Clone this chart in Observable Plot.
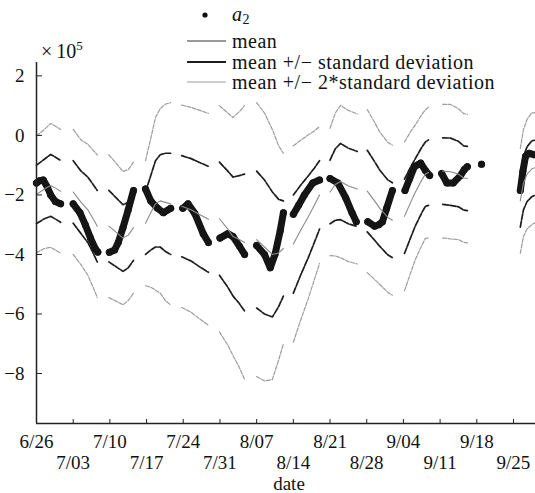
<!DOCTYPE html>
<html><head><meta charset="utf-8">
<script src="https://cdn.jsdelivr.net/npm/d3@7"></script>
<script src="https://cdn.jsdelivr.net/npm/@observablehq/plot@0.6"></script>
<style>
body{margin:0;background:#fff;}
#wrap{position:relative;width:535px;height:493px;font-family:"Liberation Serif","Times New Roman","DejaVu Serif",serif;color:#111;overflow:hidden;}
#wrap svg.plot{position:absolute;left:0;top:0;}
.ov{position:absolute;white-space:nowrap;line-height:1;}
.row{position:absolute;left:183px;height:20px;display:flex;align-items:center;font-size:20px;line-height:1;letter-spacing:0.5px;white-space:nowrap;}
.row span{line-height:1;}
.row svg{display:block;margin-right:5px;}
</style></head><body><div id="wrap"></div>
<script>
// Days counted from 6/26; values in units of 10^5.
// Statistic bands: segment id, day, mean, standard deviation
const bandSeg = [1,1,1,1,1, 2,2,2,2,2, 3,3,3,3,3, 4,4,4,4,4,4, 5,5,5,5, 6,6,6,6,6, 7,7,7,7,7, 8,8,8,8,8, 9,9,9,9,9, 10,10,10,10,10, 11,11,11,11,11,11, 12,12,12,12,12, 13,13,13,13,13];
const bandDay = [0,1.5,2.7,3.7,4.6, 7,8.5,9.8,10.8,11.6, 13.8,15.5,16.5,17.5,18.5, 20.8,21.8,22.7,23.6,24.6,25.6, 27.7,29.5,31,32.8, 34.9,36.5,37.5,38.7,39.7, 42,43.5,45,46.2,47.1, 49,50.5,51.8,53,54, 56,57,58,59.5,61.2, 63.1,64.5,65.5,67,67.9, 70.2,71.5,72.3,73.5,74.2,74.8, 77.5,79,80.5,81.5,82.2, 92.3,92.9,93.6,94.5,95.2];
const bandMean = [-1.98,-1.8,-1.68,-1.78,-1.88, -1.9,-2.25,-2.5,-2.8,-3.05, -3.05,-3.3,-3.45,-3.35,-3.1, -2.95,-2.6,-2.3,-2.2,-2.25,-2.3, -2.38,-2.5,-2.65,-2.82, -2.8,-3.15,-3.4,-3.5,-3.6, -3.5,-3.75,-4.0,-3.95,-3.8, -3.65,-3.15,-2.75,-2.35,-2.0, -1.9,-1.65,-1.55,-1.7,-1.8, -1.87,-2.2,-2.45,-2.75,-2.85, -2.72,-2.2,-1.9,-1.5,-1.3,-1.25, -1.2,-1.22,-1.3,-1.43,-1.45, -2.2,-1.6,-1.3,-1.12,-1.08];
const bandSd = [0.98,1.0,1.04,1.04,1.04, 1.05,1.05,1.1,1.15,1.2, 1.2,1.15,1.12,1.1,1.1, 1.05,1.25,1.45,1.55,1.65,1.7, 1.7,1.72,1.75,1.78, 1.9,1.95,2.0,2.15,2.3, 2.3,2.25,2.1,1.8,1.6, 1.65,1.5,1.38,1.25,1.15, 1.07,1.2,1.28,1.27,1.26, 1.37,1.32,1.28,1.26,1.26, 1.25,1.18,1.13,1.1,1.08,1.1, 1.12,1.13,1.1,1.08,1.08, 0.88,0.9,0.92,0.94,0.92];

// Observed a2: segment id, day, value
const a2Seg = [1,1,1,1,1,1,1, 2,2,2,2,2,2, 3,3,3,3,3,3, 4,4,4,4,4, 5,5,5,5,5, 6,6,6,6,6, 7,7,7,7,7,7, 8,8,8,8,8, 9,9,9,9,9, 10,10,10,10,10,10, 11,11,11,11,11,11, 12,12,12,12,12,12, 13, 14,14,14,14,14];
const a2Day = [0,0.6,1.3,2.1,2.7,3.6,4.6, 7,8.3,9.3,10.3,11.2,11.7, 13.9,14.9,15.6,16.5,17.5,18.5, 20.8,21.8,23.1,24.2,25.6, 27.9,28.9,30.2,31.8,32.8, 35,36.5,37.5,38.7,39.7, 42,43.5,44.6,45.5,46.5,47.1, 49,50,51.1,52.7,54, 56,57.5,59,60.2,61, 63.2,64.5,65.3,66,66.8,67.9, 70.3,71.2,72.1,73.3,74.2,75, 77.3,78.3,79.5,80.9,81.6,82.2, 84.9, 92.3,92.8,93.3,94,95];
const a2Val = [-1.6,-1.52,-1.5,-1.75,-2.0,-2.22,-2.3, -2.3,-2.6,-3.0,-3.45,-3.8,-3.92, -3.93,-3.85,-3.6,-3.1,-2.5,-1.85, -1.8,-2.2,-2.45,-2.6,-2.45, -2.45,-2.3,-2.62,-3.3,-3.6, -3.45,-3.3,-3.4,-3.72,-4.0, -3.7,-4.0,-4.45,-4.0,-3.2,-2.6, -2.65,-2.35,-2.0,-1.6,-1.5, -1.45,-1.6,-2.1,-2.6,-2.9, -2.9,-3.05,-3.0,-2.9,-2.45,-1.85, -1.85,-1.45,-1.05,-0.93,-1.18,-1.35, -1.28,-1.6,-1.6,-1.35,-1.15,-1.05, -0.97, -1.85,-1.2,-0.7,-0.6,-0.65];

const tickDays = [0,7,14,21,28,35,42,49,56,63,70,77,84,91];
const tickLabels = ["6/26","7/03","7/10","7/17","7/24","7/31","8/07","8/14","8/21","8/28","9/04","9/11","9/18","9/25"];
const yTicks = [2,0,-2,-4,-6,-8];
const xDomain = [0, 95.2];
const yDomain = [-9.68, 2.45];

const bands = bandDay.map((d,i)=>({seg:bandSeg[i], day:d, mean:bandMean[i], sd:bandSd[i]}));
const obs = a2Day.map((d,i)=>({seg:a2Seg[i], day:d, v:a2Val[i]}));
const labelOf = new Map(tickDays.map((d,i)=>[d,tickLabels[i]]));
const evenT = tickDays.filter((d,i)=>i%2===0), oddT = tickDays.filter((d,i)=>i%2===1);

const W=535, H=493, mL=36, mR=0, mT=62, mB=70;
const fw = W-mL-mR, fh = H-mT-mB;
const grayS = {stroke:"#9c9c9c", strokeWidth:1.2, strokeDasharray:"4,1.5"};
const darkS = {stroke:"#1c1c1c", strokeWidth:1.7, strokeDasharray:"6,1.5"};

const chart = Plot.plot({
  width:W, height:H, marginLeft:mL, marginRight:mR, marginTop:mT, marginBottom:mB,
  style:{fontFamily:'"Liberation Serif","Times New Roman","DejaVu Serif",serif', fontSize:"19px", color:"#111", background:"transparent"},
  x:{domain:xDomain, label:null},
  y:{domain:yDomain, label:null},
  marks:[
    Plot.line(bands,{x:"day", y:d=>d.mean+2*d.sd, z:"seg", ...grayS}),
    Plot.line(bands,{x:"day", y:d=>d.mean-2*d.sd, z:"seg", ...grayS}),
    Plot.line(bands,{x:"day", y:d=>d.mean+d.sd, z:"seg", ...darkS}),
    Plot.line(bands,{x:"day", y:d=>d.mean-d.sd, z:"seg", ...darkS}),
    Plot.line(obs,{x:"day", y:"v", z:"seg", stroke:"#151515", strokeWidth:7, strokeLinecap:"round", strokeLinejoin:"round"}),
    Plot.dot(obs,{x:"day", y:"v", r:3.5, fill:"#151515"}),
    Plot.line(bands,{x:"day", y:"mean", z:"seg", stroke:"#8a8a8a", strokeWidth:1.1}),
    Plot.ruleX([xDomain[0]],{stroke:"#222", strokeWidth:1.5}),
    Plot.ruleY([yDomain[0]],{stroke:"#222", strokeWidth:1.5}),
    Plot.tickX(tickDays,{x:d=>d, stroke:"#222", insetTop:fh-4}),
    Plot.tickY(yTicks,{y:d=>d, stroke:"#222", insetRight:fw-6}),
    Plot.axisY({ticks:yTicks, tickSize:0, tickPadding:12, label:null, fontSize:19, tickFormat:d=>d<0?"\u2212"+(-d):String(d)}),
    Plot.axisX({ticks:evenT, tickSize:0, tickPadding:11, label:null, fontSize:19, tickFormat:d=>labelOf.get(d)}),
    Plot.axisX({ticks:oddT, tickSize:0, tickPadding:32, label:null, fontSize:19, tickFormat:d=>labelOf.get(d)})
  ]
});
chart.classList.add("plot");
const wrap = document.getElementById("wrap");
wrap.appendChild(chart);

function row(top, swatch, html){
  const r = document.createElement("div");
  r.className="row"; r.style.top=(top-10)+"px";
  r.innerHTML = `<svg width="44" height="20">${swatch}</svg><span>${html}</span>`;
  wrap.appendChild(r);
}
row(15, '<circle cx="22" cy="10" r="2.6" fill="#111"/>', '<i>a</i><sub style="font-size:14px;line-height:1;vertical-align:-3px">2</sub>');
row(41, '<line x1="4" x2="43" y1="10" y2="10" stroke="#333" stroke-width="1"/>', 'mean');
row(61.5, '<line x1="4" x2="43" y1="10" y2="10" stroke="#1c1c1c" stroke-width="2"/>', 'mean +/\u2212 standard deviation');
row(82, '<line x1="4" x2="43" y1="10" y2="10" stroke="#9c9c9c" stroke-width="1.2"/>', 'mean +/\u2212 2*standard deviation');

const mult = document.createElement("div");
mult.className="ov"; mult.style.left="41px"; mult.style.top="39px"; mult.style.fontSize="20px";
mult.innerHTML='\u00d7\u200910<sup style="font-size:13px;line-height:1;vertical-align:8px">5</sup>';
wrap.appendChild(mult);

const xl = document.createElement("div");
xl.className="ov"; xl.style.left="289px"; xl.style.top="474px"; xl.style.fontSize="19px"; xl.style.transform="translateX(-50%)";
xl.textContent="date";
wrap.appendChild(xl);
</script></body></html>
